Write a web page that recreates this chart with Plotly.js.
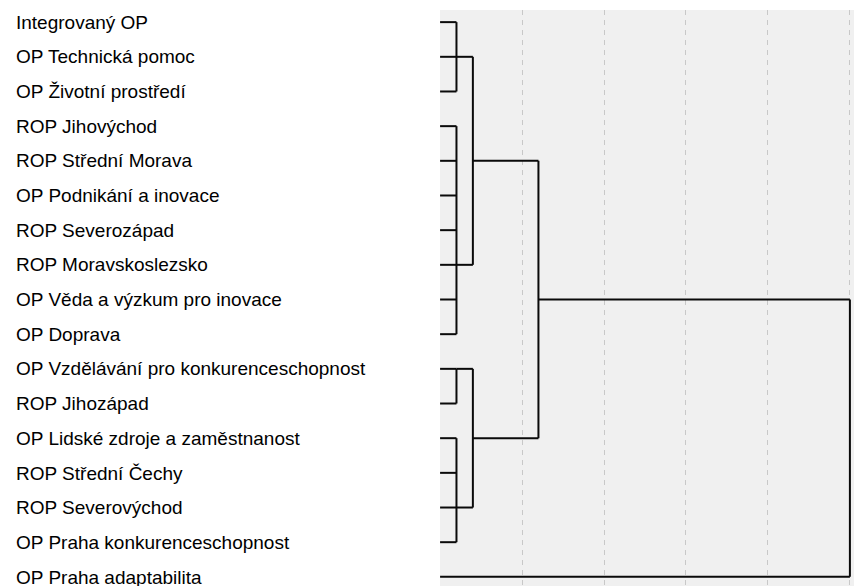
<!DOCTYPE html>
<html>
<head>
<meta charset="utf-8">
<script src="https://cdn.plot.ly/plotly-3.0.1.min.js"></script>
<style>
  html, body { margin: 0; padding: 0; overflow: hidden; background: #ffffff; }
  #chart { width: 854px; height: 600px; }
</style>
</head>
<body>
<div id="chart"></div>
<script>
// Leaves of the dendrogram (top to bottom)
const leaves = [
  "Integrovaný OP",
  "OP Technická pomoc",
  "OP Životní prostředí",
  "ROP Jihovýchod",
  "ROP Střední Morava",
  "OP Podnikání a inovace",
  "ROP Severozápad",
  "ROP Moravskoslezsko",
  "OP Věda a výzkum pro inovace",
  "OP Doprava",
  "OP Vzdělávání pro konkurenceschopnost",
  "ROP Jihozápad",
  "OP Lidské zdroje a zaměstnanost",
  "ROP Střední Čechy",
  "ROP Severovýchod",
  "OP Praha konkurenceschopnost",
  "OP Praha adaptabilita"
];

// Lowest-level clusters (merge distance ~0.2): members and the leaf the branch continues from
const lowGroups  = [[0, 1, 2], [3, 4, 5, 6, 7, 8, 9], [10, 11], [12, 13, 14, 15]];
const lowAnchors = [1, 7, 10, 14];
const lowHeight  = 0.2;

// Higher merges: [left node, right node, distance]
const merges = [
  ["g0", "g1", 0.4],
  ["g2", "g3", 0.4],
  ["m0", "m1", 1.2],
  ["m2", "L16", 5.0]
];

// ---- build line segments from the tree ----
const nodes = {};
leaves.forEach((name, i) => { nodes["L" + i] = { y: i, h: 0 }; });

const xs = [], ys = [];
function seg(x0, y0, x1, y1) { xs.push(x0, x1, null); ys.push(y0, y1, null); }

lowGroups.forEach((g, k) => {
  g.forEach(i => seg(0, i, lowHeight, i));
  seg(lowHeight, Math.min(...g), lowHeight, Math.max(...g));
  nodes["g" + k] = { y: lowAnchors[k], h: lowHeight };
});

merges.forEach((m, k) => {
  const a = nodes[m[0]], b = nodes[m[1]], h = m[2];
  seg(a.h, a.y, h, a.y);
  seg(b.h, b.y, h, b.y);
  seg(h, a.y, h, b.y);
  nodes["m" + k] = { y: (a.y + b.y) / 2, h: h };
});

const trace = {
  type: "scatter",
  mode: "lines",
  x: xs,
  y: ys,
  connectgaps: false,
  line: { color: "#0a0a0a", width: 2 },
  hoverinfo: "skip",
  showlegend: false
};

const n = leaves.length;
const layout = {
  width: 854,
  height: 600,
  margin: { l: 0, r: 0, t: 10, b: 11, pad: 0 },
  paper_bgcolor: "#ffffff",
  plot_bgcolor: "#f0f0f0",
  showlegend: false,
  xaxis: {
    domain: [440 / 854, 1],
    range: [-0.001, 5.05],
    dtick: 1,
    tick0: 0,
    showgrid: true,
    gridcolor: "#c8c8c8",
    gridwidth: 1,
    griddash: "5px,5px",
    zeroline: false,
    showline: false,
    showticklabels: false,
    ticks: ""
  },
  yaxis: {
    anchor: "free",
    position: 0,
    side: "right",
    range: [n - 1 + 0.35, -0.35],
    tickmode: "array",
    tickvals: leaves.map((_, i) => i),
    ticktext: leaves,
    ticks: "",
    ticklabelstandoff: 15,
    showgrid: false,
    zeroline: false,
    showline: false,
    automargin: false,
    tickfont: { family: "Liberation Sans, Arial, sans-serif", size: 19, color: "#000000" }
  }
};

Plotly.newPlot("chart", [trace], layout, { displayModeBar: false, staticPlot: true });
</script>
</body>
</html>
